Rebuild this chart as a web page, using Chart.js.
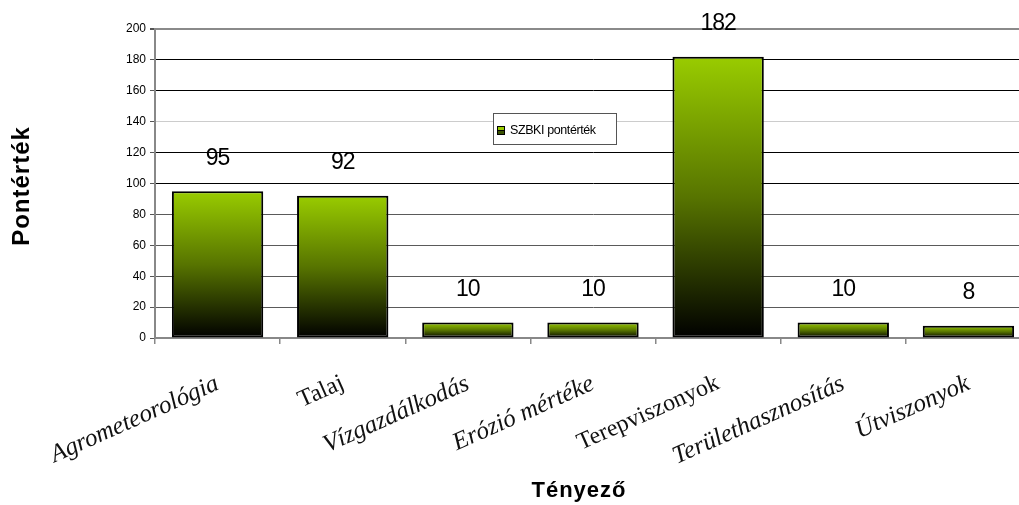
<!DOCTYPE html>
<html>
<head>
<meta charset="utf-8">
<script src="https://cdn.jsdelivr.net/npm/chart.js@4/dist/chart.umd.min.js"></script>
<style>
html,body{margin:0;padding:0;overflow:hidden;background:#fff;}
#wrap{width:1031px;height:505px;position:relative;}
</style>
</head>
<body>
<div id="wrap"><canvas id="c" width="1031" height="505"></canvas></div>
<script>
const categories = ["Agrometeorológia","Talaj","Vízgazdálkodás","Erózió mértéke","Terepviszonyok","Területhasznosítás","Útviszonyok"];
const seriesName = "SZBKI pontérték";
const values = [95, 92, 10, 10, 182, 10, 8];
const yTicks = [0,20,40,60,80,100,120,140,160,180,200];
const yTitle = "Pontérték";
const xTitle = "Tényező";
const plainLabels = [1, 4];

function barGradient(ctx){
  const chart = ctx.chart;
  const ys = chart.scales && chart.scales.y;
  if (!ys || !chart.chartArea || ctx.parsed === undefined) return '#99cc00';
  const top = ys.getPixelForValue(ctx.parsed.y);
  const bot = ys.getPixelForValue(0);
  const g = chart.ctx.createLinearGradient(0, top, 0, bot);
  g.addColorStop(0, '#99cc00');
  g.addColorStop(0.5, '#577400');
  g.addColorStop(1, '#000000');
  return g;
}

const gridColorFor = v => {
  if (v === 0) return 'rgba(0,0,0,0)';
  if (v === 200) return '#8a8a8a';
  if (v === 140) return '#cccccc';
  if (v >= 100) return '#000000';
  return '#5a5a5a';
};

const overlay = {
  id: 'overlay',
  afterDatasetsDraw(chart){
    const c = chart.ctx;
    const meta = chart.getDatasetMeta(0);
    c.save();
    c.fillStyle = '#000';
    c.font = '23px "Liberation Sans", Arial, sans-serif';
    c.textAlign = 'center';
    c.textBaseline = 'middle';
    try { c.letterSpacing = '-1px'; } catch(e){}
    meta.data.forEach((bar, i) => {
      c.fillText(String(chart.data.datasets[0].data[i]), bar.x, bar.y - 33);
    });
    c.restore();
  },
  afterDraw(chart){
    const c = chart.ctx;
    c.save();
    // legend box
    c.fillStyle = '#fff';
    c.fillRect(493.5, 113.5, 123, 31);
    c.strokeStyle = '#555';
    c.lineWidth = 1;
    c.strokeRect(493.5, 113.5, 123, 31);
    c.fillStyle = '#000';
    c.fillRect(497, 126, 8, 9);
    c.fillStyle = '#99cc00';
    c.fillRect(498, 127, 6, 3);
    c.fillStyle = '#3a5200';
    c.fillRect(498, 131, 6, 3);
    c.fillStyle = '#000';
    c.font = '12.5px "Liberation Sans", Arial, sans-serif';
    try { c.letterSpacing = '-0.4px'; } catch(e){}
    c.textAlign = 'left';
    c.textBaseline = 'middle';
    c.fillText(chart.data.datasets[0].label, 510, 131);
    // x title
    try { c.letterSpacing = '1px'; } catch(e){}
    c.font = 'bold 22px "Liberation Sans", Arial, sans-serif';
    c.textAlign = 'center';
    c.fillText(xTitle, 579, 491);
    // y title
    c.translate(22, 186);
    c.rotate(-Math.PI / 2);
    c.font = 'bold 24px "Liberation Sans", Arial, sans-serif';
    c.fillText(yTitle, 0, 0);
    c.restore();
  }
};

new Chart(document.getElementById('c'), {
  type: 'bar',
  data: {
    labels: categories,
    datasets: [{
      label: seriesName,
      data: values,
      backgroundColor: barGradient,
      borderColor: '#000',
      borderWidth: 2,
      borderSkipped: false,
      categoryPercentage: 1,
      barPercentage: 0.73
    }]
  },
  options: {
    responsive: false,
    animation: false,
    layout: { padding: { top: 29, left: 0, right: 0, bottom: 0 } },
    plugins: { legend: { display: false }, tooltip: { enabled: false } },
    scales: {
      x: {
        offset: true,
        grid: { display: true, drawOnChartArea: false, drawTicks: true, tickLength: 6, color: '#888', lineWidth: 1.5 },
        border: { display: true, color: '#888', width: 2 },
        ticks: {
          autoSkip: false,
          minRotation: 24, maxRotation: 24,
          padding: 25,
          color: '#111',
          font: (ctx) => plainLabels.includes(ctx.index)
            ? { family: '"Liberation Serif", "Times New Roman", serif', size: 24, style: 'normal', weight: 'normal' }
            : { family: '"Liberation Serif", "Times New Roman", serif', size: 25, style: 'italic', weight: 'normal' }
        },
        afterFit(scale){ scale.height = 167; }
      },
      y: {
        min: 0, max: 200,
        afterBuildTicks(scale){ scale.ticks = yTicks.map(v => ({ value: v })); },
        grid: {
          color: (ctx) => gridColorFor(ctx.tick ? ctx.tick.value : 0),
          lineWidth: (ctx) => (ctx.tick && ctx.tick.value === 200) ? 2 : 1,
          tickColor: '#555',
          tickLength: 5,
          drawTicks: true
        },
        border: { display: true, color: '#888', width: 2 },
        ticks: {
          padding: 4,
          color: '#000',
          font: { family: '"Liberation Sans", Arial, sans-serif', size: 12 }
        },
        afterFit(scale){ scale.width = 155; }
      }
    }
  },
  plugins: [overlay]
});
</script>
</body>
</html>
